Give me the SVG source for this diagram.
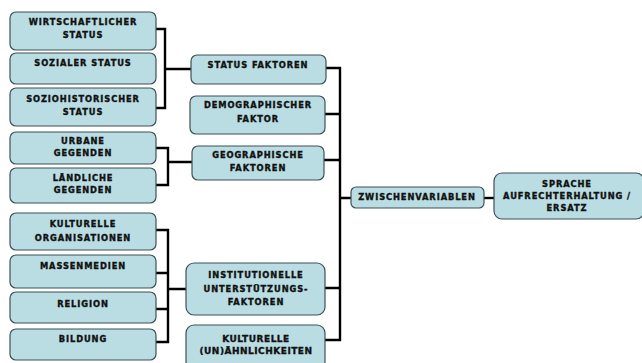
<svg xmlns="http://www.w3.org/2000/svg" width="642" height="363" viewBox="0 0 642 363">
<style>
.b{fill:#b9dde3;stroke:#3e5154;stroke-width:1.2}
.t{font-family:"DejaVu Sans",Verdana,sans-serif;font-weight:bold;font-size:8.3px;letter-spacing:0.9px;fill:#111;stroke:#111;stroke-width:0.35;text-anchor:middle}
.c{fill:none;stroke:#000;stroke-width:2.4}
</style>
<rect width="642" height="363" fill="#fff"/>
<g id="connectors">
<path class="c" d="M156 29H165V108H156M165 69H191"/>
<path class="c" d="M156 148H168V185H156M168 162H192"/>
<path class="c" d="M156 230H168V342H156M156 273H168M156 309H168M168 289H186"/>
<path class="c" d="M326 68H340V340H325M325 114H340M324 160H340M325 288H340M340 198H351"/>
<path class="c" d="M484 198H494"/>
</g>
<g id="n1"><rect class="b" x="10" y="12" width="146" height="38" rx="6"/><text class="t" x="83" y="25">WIRTSCHAFTLICHER</text><text class="t" x="83" y="38">STATUS</text></g>
<g id="n2"><rect class="b" x="10" y="53" width="146" height="31" rx="6"/><text class="t" x="83" y="66">SOZIALER STATUS</text></g>
<g id="n3"><rect class="b" x="10" y="88" width="146" height="38" rx="6"/><text class="t" x="83" y="102">SOZIOHISTORISCHER</text><text class="t" x="83" y="115">STATUS</text></g>
<g id="n4"><rect class="b" x="10" y="132" width="146" height="32" rx="6"/><text class="t" x="83" y="144">URBANE</text><text class="t" x="83" y="156">GEGENDEN</text></g>
<g id="n5"><rect class="b" x="10" y="168" width="146" height="35" rx="6"/><text class="t" x="83" y="181">LÄNDLICHE</text><text class="t" x="83" y="193">GEGENDEN</text></g>
<g id="n6"><rect class="b" x="10" y="213" width="146" height="37" rx="6"/><text class="t" x="83" y="227">KULTURELLE</text><text class="t" x="83" y="241">ORGANISATIONEN</text></g>
<g id="n7"><rect class="b" x="10" y="255" width="146" height="33" rx="6"/><text class="t" x="83" y="269">MASSENMEDIEN</text></g>
<g id="n8"><rect class="b" x="10" y="292" width="146" height="31" rx="6"/><text class="t" x="83" y="307">RELIGION</text></g>
<g id="n9"><rect class="b" x="10" y="329" width="146" height="31" rx="6"/><text class="t" x="83" y="342">BILDUNG</text></g>
<g id="n10"><rect class="b" x="191" y="55" width="135" height="29" rx="6"/><text class="t" x="258" y="68">STATUS FAKTOREN</text></g>
<g id="n11"><rect class="b" x="190" y="96" width="135" height="38" rx="6"/><text class="t" x="258" y="108">DEMOGRAPHISCHER</text><text class="t" x="258" y="122">FAKTOR</text></g>
<g id="n12"><rect class="b" x="192" y="146" width="132" height="34" rx="6"/><text class="t" x="258" y="158">GEOGRAPHISCHE</text><text class="t" x="258" y="171">FAKTOREN</text></g>
<g id="n13"><rect class="b" x="186" y="263" width="139" height="52" rx="8"/><text class="t" x="256" y="278">INSTITUTIONELLE</text><text class="t" x="256" y="292">UNTERSTÜTZUNGS-</text><text class="t" x="256" y="305">FAKTOREN</text></g>
<g id="n14"><rect class="b" x="186" y="325" width="139" height="44" rx="8"/><text class="t" x="256" y="342" style="font-size:9px;letter-spacing:0.5px">KULTURELLE</text><text class="t" x="256" y="354" style="font-size:9px;letter-spacing:0.5px">(UN)ÄHNLICHKEITEN</text></g>
<g id="n15"><rect class="b" x="351" y="187" width="133" height="21" rx="5"/><text class="t" x="417" y="200">ZWISCHENVARIABLEN</text></g>
<g id="n16"><rect class="b" x="494" y="173" width="150" height="46" rx="8"/><text class="t" x="567" y="187">SPRACHE</text><text class="t" x="567" y="199">AUFRECHTERHALTUNG /</text><text class="t" x="567" y="211">ERSATZ</text></g>
</svg>
